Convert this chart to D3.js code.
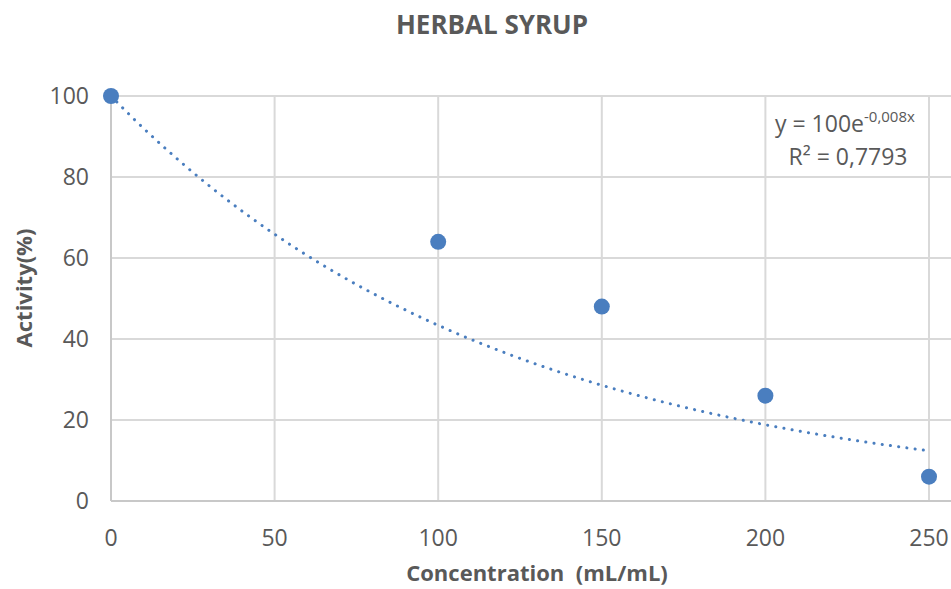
<!DOCTYPE html>
<html>
<head>
<meta charset="utf-8">
<script src="https://cdn.jsdelivr.net/npm/d3@7"></script>
<style>
  body { margin: 0; background: #fff; }
  text { font-family: "Open Sans", sans-serif; fill: #595959; }
</style>
</head>
<body>
<svg id="chart" width="951" height="589"></svg>
<script>
// values
var concentration = [0, 100, 150, 200, 250];
var activity = [100, 64, 48, 26, 6];
var xTicks = [0, 50, 100, 150, 200, 250];
var yTicks = [0, 20, 40, 60, 80, 100];
// exponential trendline, intercept set to 100
var trendA = 100;
var trendB = -0.00835;

var width = 951, height = 589;
var plotLeft = 111, plotRight = 929, plotTop = 96, plotBottom = 501;

var x = d3.scaleLinear().domain([0, 250]).range([plotLeft, plotRight]);
var y = d3.scaleLinear().domain([0, 100]).range([plotBottom, plotTop]);

var svg = d3.select("#chart");

// horizontal gridlines (run to the edge of the picture)
svg.append("g").selectAll("line")
    .data(yTicks.filter(function(d){return d > 0;}))
    .enter().append("line")
    .attr("x1", plotLeft).attr("x2", width)
    .attr("y1", function(d){return y(d);}).attr("y2", function(d){return y(d);})
    .attr("stroke", "#d9d9d9").attr("stroke-width", 2);

// vertical gridlines
svg.append("g").selectAll("line")
    .data(xTicks.filter(function(d){return d > 0;}))
    .enter().append("line")
    .attr("x1", function(d){return x(d);}).attr("x2", function(d){return x(d);})
    .attr("y1", plotTop).attr("y2", plotBottom)
    .attr("stroke", "#d9d9d9").attr("stroke-width", 2);

// axis lines
svg.append("line").attr("x1", plotLeft).attr("x2", width).attr("y1", plotBottom).attr("y2", plotBottom)
    .attr("stroke", "#c8c8c8").attr("stroke-width", 2);
svg.append("line").attr("x1", plotLeft).attr("x2", plotLeft).attr("y1", plotTop).attr("y2", plotBottom)
    .attr("stroke", "#c8c8c8").attr("stroke-width", 2);

// tick labels
svg.append("g").selectAll("text")
    .data(yTicks).enter().append("text")
    .attr("x", 89).attr("y", function(d){return y(d) + 8;})
    .attr("text-anchor", "end").attr("font-size", 23)
    .text(function(d){return d;});

svg.append("g").selectAll("text")
    .data(xTicks).enter().append("text")
    .attr("x", function(d){return x(d);}).attr("y", 546)
    .attr("text-anchor", "middle").attr("font-size", 23)
    .text(function(d){return d;});

// trendline
var trendPts = d3.range(0, 250.5, 1).map(function(v){ return [v, trendA * Math.exp(trendB * v)]; });
svg.append("path")
    .datum(trendPts)
    .attr("d", d3.line().x(function(d){return x(d[0]);}).y(function(d){return y(d[1]);}))
    .attr("fill", "none")
    .attr("stroke", "#4a7ebf")
    .attr("stroke-width", 3)
    .attr("stroke-linecap", "round")
    .attr("stroke-dasharray", "0.1 8.2");

// points
svg.append("g").selectAll("circle")
    .data(concentration).enter().append("circle")
    .attr("cx", function(d){return x(d);})
    .attr("cy", function(d, i){return y(activity[i]);})
    .attr("r", 8)
    .attr("fill", "#4a7ebf");

// title and axis titles
svg.append("text").attr("x", 492).attr("y", 34)
    .attr("text-anchor", "middle").attr("font-size", 26).attr("font-weight", "bold")
    .text("HERBAL SYRUP");

svg.append("text").attr("x", 537).attr("y", 581)
    .attr("text-anchor", "middle").attr("font-size", 22).attr("font-weight", "bold")
    .style("white-space", "pre")
    .text("Concentration  (mL/mL)");

svg.append("text")
    .attr("transform", "translate(32,288) rotate(-90)")
    .attr("text-anchor", "middle").attr("font-size", 22).attr("font-weight", "bold")
    .text("Activity(%)");

// trendline equation
var eq = svg.append("text").attr("x", 775).attr("y", 132).attr("font-size", 23);
eq.append("tspan").text("y = 100e");
eq.append("tspan").attr("dy", -10).attr("font-size", 15).text("-0,008x");

svg.append("text").attr("x", 848).attr("y", 165)
    .attr("text-anchor", "middle").attr("font-size", 23)
    .text("R² = 0,7793");
</script>
</body>
</html>
